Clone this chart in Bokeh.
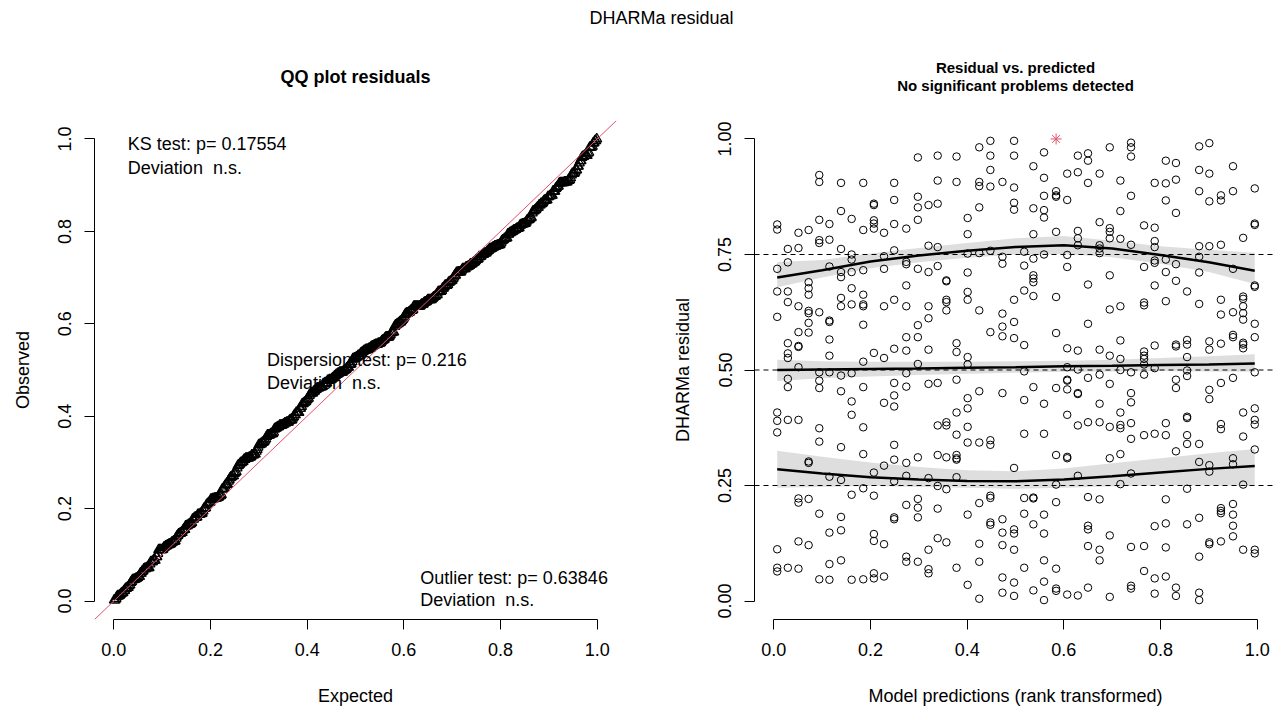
import numpy as np
from bokeh.plotting import figure
from bokeh.models import (FixedTicker, PrintfTickFormatter, Label, Span, Slope, Div, Title)
from bokeh.layouts import column, row
from bokeh.embed import file_html
from bokeh.resources import INLINE

# ---------------- data ----------------
# rank-transformed model predictions (tied groups share one value)
pred_rank = [0.007, 0.029, 0.051, 0.072, 0.094, 0.115, 0.139, 0.161, 0.185, 0.207,
             0.228, 0.249, 0.274, 0.298, 0.320, 0.339, 0.357, 0.378, 0.401, 0.425,
             0.448, 0.473, 0.497, 0.518, 0.537, 0.559, 0.584, 0.607, 0.629, 0.650,
             0.674, 0.695, 0.717, 0.739, 0.766, 0.788, 0.811, 0.832, 0.855, 0.880,
             0.901, 0.925, 0.950, 0.971, 0.995]

# scaled (DHARMa) residuals for each prediction group
residuals_by_rank = [
    [.815, .804, .719, .670, .615, .408, .390, .365, .112, .072, .064],
    [.762, .733, .670, .647, .558, .536, .526, .481, .463, .392, .072],
    [.797, .764, .638, .582, .552, .550, .506, .392, .222, .213, .129, .070],
    [.803, .690, .677, .663, .628, .623, .602, .581, .302, .299, .221, .121],
    [.922, .907, .825, .781, .775, .625, .495, .477, .461, .374, .345, .189, .047],
    [.816, .782, .724, .607, .604, .566, .531, .495, .269, .148, .080, .046],
    [.905, .844, .762, .712, .701, .656, .638, .488, .454, .333, .262, .182, .153, .088],
    [.827, .750, .739, .712, .677, .642, .493, .432, .403, .230, .046],
    [.905, .803, .716, .663, .642, .638, .598, .518, .463, .376, .318, .244, .047],
    [.860, .857, .824, .817, .806, .537, .278, .228, .145, .130, .060, .049],
    [.797, .746, .719, .638, .526, .429, .293, .123, .053],
    [.905, .868, .816, .759, .652, .546, .472, .445, .421, .338, .306, .259, .181, .177],
    [.806, .734, .729, .683, .638, .571, .542, .493, .464, .299, .271, .208, .096, .085],
    [.960, .875, .852, .825, .719, .597, .571, .513, .311, .221, .202, .181, .085],
    [.857, .769, .712, .638, .612, .544, .470, .266, .111, .069, .060],
    [.964, .910, .860, .766, .725, .472, .380, .316, .249, .200, .136],
    [.694, .692, .652, .647, .629, .387, .380, .311, .242, .127],
    [.962, .907, .558, .539, .479, .408, .360, .316, .309, .306, .268, .072],
    [.829, .794, .752, .711, .669, .652, .528, .512, .439, .417, .377, .343, .187, .035],
    [.982, .907, .898, .852, .753, .629, .454, .343, .212, .124, .085, .005],
    [.996, .964, .933, .897, .758, .582, .348, .338, .228, .223, .170, .165],
    [.907, .745, .730, .622, .594, .573, .450, .177, .148, .121, .051, .018],
    [.996, .964, .895, .862, .847, .652, .604, .569, .288, .155, .146, .111, .040, .011],
    [.756, .726, .672, .554, .497, .435, .362, .223, .189, .072],
    [.941, .850, .794, .741, .705, .698, .690, .660, .463, .224, .222, .166, .023],
    [.971, .916, .877, .846, .830, .750, .427, .362, .187, .146, .088, .042, .002],
    [1.0, .887, .878, .875, .799, .658, .580, .461, .316, .252, .214, .070, .027, .022],
    [.925, .868, .749, .723, .547, .506, .479, .477, .458, .403, .312, .309, .014],
    [.964, .928, .801, .785, .770, .542, .501, .450, .448, .380, .271, .012],
    [.969, .953, .905, .685, .600, .483, .387, .225, .163, .155, .119, .029],
    [.925, .820, .770, .763, .753, .544, .490, .427, .387, .220, .111, .088],
    [.982, .807, .799, .785, .705, .631, .531, .470, .377, .309, .142, .009],
    [.910, .844, .784, .638, .564, .524, .500, .408, .381, .374, .318, .253],
    [.992, .982, .962, .877, .771, .495, .450, .430, .385, .351, .276, .117, .033, .027],
    [.813, .723, .646, .640, .540, .531, .524, .512, .490, .359, .119, .065],
    [.905, .808, .779, .766, .737, .732, .683, .553, .504, .362, .162, .049, .016],
    [.953, .904, .867, .739, .712, .649, .385, .359, .220, .168, .116, .053],
    [.948, .912, .840, .729, .693, .555, .551, .479, .461, .324, .029, .011],
    [.670, .565, .555, .528, .499, .487, .399, .396, .359, .340, .243, .166],
    [.984, .933, .887, .768, .745, .711, .643, .340, .301, .180, .096, .018, .002],
    [.991, .925, .865, .768, .562, .544, .457, .437, .294, .280, .127, .123],
    [.878, .867, .771, .652, .620, .557, .472, .383, .372, .201, .195, .190, .129],
    [.941, .887, .719, .625, .576, .571, .483, .309, .296, .210, .187, .163, .140],
    [.786, .659, .654, .638, .623, .609, .559, .555, .547, .408, .356, .252, .111],
    [.893, .817, .814, .683, .680, .600, .571, .495, .417, .392, .382, .328, .111, .103],
]

# quantile regression fits (0.25 / 0.5 / 0.75) with confidence bands
q_x = [0.007, 0.1, 0.2, 0.3, 0.4, 0.5, 0.6, 0.7, 0.8, 0.9, 0.995]
q75_fit = [.700, .716, .735, .748, .758, .766, .770, .763, .749, .733, .715]
q75_lwr = [.679, .700, .720, .733, .743, .750, .751, .744, .730, .712, .686]
q75_upr = [.734, .738, .752, .764, .775, .785, .790, .780, .768, .760, .754]
q50_fit = [.500, .501, .502, .503, .505, .506, .508, .509, .511, .512, .514]
q50_lwr = [.476, .482, .486, .489, .492, .494, .496, .497, .498, .497, .496]
q50_upr = [.522, .519, .518, .518, .518, .519, .520, .522, .526, .530, .534]
q25_fit = [.285, .276, .268, .263, .260, .259, .263, .270, .278, .286, .292]
q25_lwr = [.245, .247, .249, .247, .245, .243, .245, .248, .250, .250, .249]
q25_upr = [.325, .312, .300, .290, .283, .281, .287, .298, .309, .320, .329]

quantile_lines = [0.25, 0.5, 0.75]

x_ticks = [0.0, 0.2, 0.4, 0.6, 0.8, 1.0]
x_tick_labels = ["0.0", "0.2", "0.4", "0.6", "0.8", "1.0"]
qq_y_ticks = [0.0, 0.2, 0.4, 0.6, 0.8, 1.0]
qq_y_tick_labels = ["0.0", "0.2", "0.4", "0.6", "0.8", "1.0"]
res_y_ticks = [0.0, 0.25, 0.5, 0.75, 1.0]
res_y_tick_labels = ["0.00", "0.25", "0.50", "0.75", "1.00"]

NBSP = "\u00a0"
ks_text = ["KS test: p= 0.17554", "Deviation" + NBSP + " n.s."]
disp_text = ["Dispersion test: p= 0.216", "Deviation" + NBSP + " n.s."]
outl_text = ["Outlier test: p= 0.63846", "Deviation" + NBSP + " n.s."]

# ---------------- derived ----------------
res_x = np.concatenate([[x] * len(v) for x, v in zip(pred_rank, residuals_by_rank)])
res_y = np.concatenate([np.asarray(v, dtype=float) for v in residuals_by_rank])
is_outlier = (res_y >= 1.0) | (res_y <= 0.0)

n = len(res_y)
qq_obs = np.sort(res_y)
qq_exp = (np.arange(1, n + 1) - 0.5) / n

FONT = "Liberation Sans"
RED = "#DF536B"
DIV_H = 24


def style_axis(ax, ticks, labels, title, fmt, vertical=False, title_standoff=23):
    ax.ticker = FixedTicker(ticks=ticks)
    ax.formatter = PrintfTickFormatter(format=fmt)
    ax.major_label_overrides = {t: l for t, l in zip(ticks, labels)}
    ax.bounds = (0, 1)
    ax.axis_label = title
    ax.axis_label_text_font = FONT
    ax.axis_label_text_font_size = "18px"
    ax.axis_label_text_font_style = "normal"
    ax.axis_label_text_color = "black"
    ax.axis_label_standoff = title_standoff
    ax.major_label_text_font = FONT
    ax.major_label_text_font_size = "18px"
    ax.major_label_text_color = "black"
    ax.major_label_standoff = 13
    ax.major_tick_out = 10
    ax.major_tick_in = 0
    ax.minor_tick_out = 0
    ax.minor_tick_in = 0
    ax.axis_line_color = "black"
    ax.major_tick_line_color = "black"
    if vertical:
        ax.major_label_orientation = "vertical"


def base_fig(width, left, right):
    p = figure(width=width, height=711 - DIV_H, x_range=(-0.04, 1.04), y_range=(-0.04, 1.04),
               output_backend="svg", toolbar_location=None,
               min_border_left=left, min_border_right=right,
               min_border_top=120 - DIV_H, min_border_bottom=92)
    p.xgrid.visible = False
    p.ygrid.visible = False
    p.outline_line_color = None
    p.background_fill_color = "white"
    p.border_fill_color = "white"
    return p


def add_text(p, x, y, txt):
    p.add_layout(Label(x=x, y=y, text=txt, text_font=FONT, text_font_size="18px",
                       text_align="left", text_baseline="middle", text_color="black"))


def add_title(p, txt, size, standoff):
    p.add_layout(Title(text=txt, align="center", text_font=FONT, text_font_size=size,
                       text_font_style="bold", text_color="black", standoff=standoff),
                 "above")


# ---------------- QQ plot ----------------
p1 = base_fig(638, 94, 22)
style_axis(p1.xaxis[0], x_ticks, x_tick_labels, "Expected", "%.1f", title_standoff=27)
style_axis(p1.yaxis[0], qq_y_ticks, qq_y_tick_labels, "Observed", "%.1f", vertical=True)

p1.scatter(qq_exp, qq_obs, marker="triangle", size=10, fill_color=None,
           line_color="black", line_width=1.2)
p1.add_layout(Slope(gradient=1, y_intercept=0, line_color=RED, line_width=1))

add_title(p1, "QQ plot residuals", "18px", 68)
add_text(p1, 0.029, 0.989, ks_text[0])
add_text(p1, 0.029, 0.937, ks_text[1])
add_text(p1, 0.317, 0.521, disp_text[0])
add_text(p1, 0.317, 0.471, disp_text[1])
add_text(p1, 0.634, 0.050, outl_text[0])
add_text(p1, 0.634, 0.003, outl_text[1])

# ---------------- residual vs predicted ----------------
p2 = base_fig(639, 116, 1)
style_axis(p2.xaxis[0], x_ticks, x_tick_labels, "Model predictions (rank transformed)", "%.1f",
           title_standoff=27)
style_axis(p2.yaxis[0], res_y_ticks, res_y_tick_labels, "DHARMa residual", "%.2f", vertical=True)

p2.scatter(res_x[~is_outlier], res_y[~is_outlier], marker="circle", size=7.5, fill_color=None,
           line_color="black", line_width=1)
p2.scatter(res_x[is_outlier], res_y[is_outlier], marker="asterisk", size=11,
           line_color=RED, line_width=1)

for lwr, upr in [(q25_lwr, q25_upr), (q50_lwr, q50_upr), (q75_lwr, q75_upr)]:
    p2.varea(x=q_x, y1=lwr, y2=upr, fill_color="black", fill_alpha=0.13)
for fit in [q25_fit, q50_fit, q75_fit]:
    p2.line(q_x, fit, line_color="black", line_width=2.5)
for h in quantile_lines:
    p2.add_layout(Span(location=h, dimension="width", line_color="black",
                       line_dash="5 4", line_width=1))

add_title(p2, "No significant problems detected", "15px", 53)
add_title(p2, "Residual vs. predicted", "15px", -54)

title_div = Div(text='<span style="position:relative;left:23px">DHARMa residual</span>',
                width=1277, height=DIV_H, margin=(0, 0, 0, 0),
                styles={"font-family": FONT, "font-size": "18px", "text-align": "center",
                        "line-height": "36px", "color": "black", "overflow": "visible"})

layout = column(title_div, row(p1, p2))
open("out.html", "w").write(file_html(layout, INLINE))
